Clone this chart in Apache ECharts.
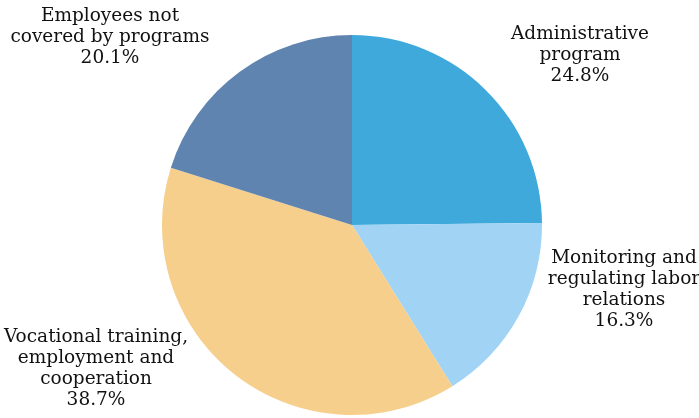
<!DOCTYPE html>
<html><head><meta charset="utf-8">
<script src="https://cdn.jsdelivr.net/npm/echarts@6/dist/echarts.min.js"></script>
<style>html,body{margin:0;padding:0;background:#fff}#c{width:699px;height:418px}</style>
</head><body><div id="c"></div>
<script>
var categories = ["Administrative\nprogram", "Monitoring and\nregulating labor\nrelations", "Vocational training,\nemployment and\ncooperation", "Employees not\ncovered by programs"];
var values = [24.8, 16.3, 38.7, 20.1];
var colors = ["#3FA9DC", "#A1D3F4", "#F6CF8C", "#5F84B0"];
var labelCenters = [[580, 55], [624, 290], [96, 369], [110, 37]];
var chart = echarts.init(document.getElementById('c'));
chart.setOption({
  animation: false,
  series: [{
    type: 'pie',
    center: [352, 225],
    radius: [0, 190],
    startAngle: 90,
    clockwise: true,
    data: categories.map(function(c, i){ return {name: c, value: values[i], itemStyle: {color: colors[i]}}; }),
    label: {
      show: true,
      position: 'outside',
      formatter: function(p){ return p.name + '\n' + p.value.toFixed(1) + '%'; },
      fontFamily: 'DejaVu Serif',
      fontSize: 18.5,
      lineHeight: 21,
      color: '#111',
      align: 'center',
      overflow: 'none'
    },
    labelLayout: function(p){
      var c = labelCenters[p.dataIndex];
      return {x: c[0], y: c[1], align: 'center', verticalAlign: 'middle'};
    },
    labelLine: {show: false},
    emphasis: {disabled: true}
  }]
});
</script></body></html>
